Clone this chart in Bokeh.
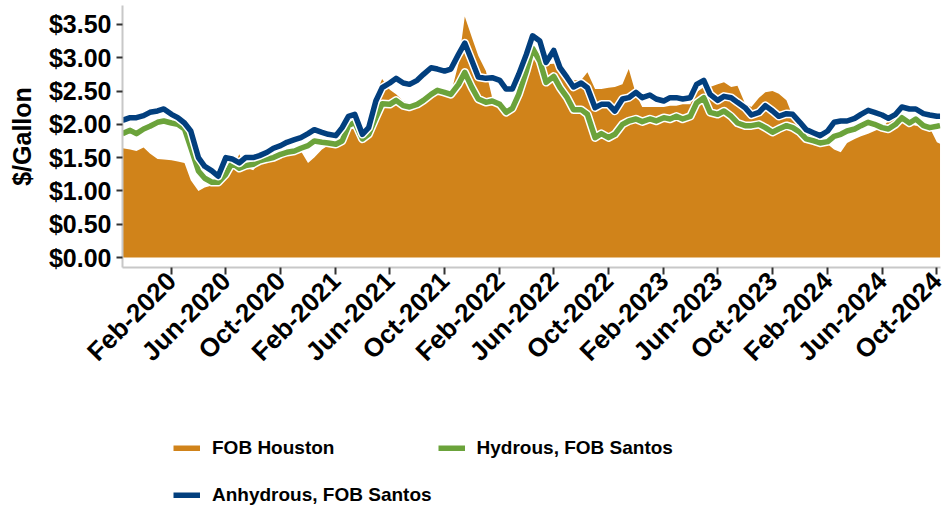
import pandas as pd
from bokeh.plotting import figure
from bokeh.layouts import column
from bokeh.models import (ColumnDataSource, FixedTicker, NumeralTickFormatter,
                          DatetimeTickFormatter, Legend, LegendItem, Range1d)
from bokeh.embed import file_html
from bokeh.resources import INLINE

# semi-monthly observation dates (1st and 15th), plus final week
dates = list(pd.date_range("2019-10-15", "2024-10-01", freq="SMS")) + [pd.Timestamp("2024-10-08")]

fob_houston = [
    1.64,
    1.62, 1.60, 1.65, 1.56,                                   # Nov-Dec 2019
    1.48, 1.47, 1.46, 1.44, 1.42, 1.16, 1.00, 1.05, 1.08, 1.10, 1.38, 1.32,  # Jan-Jun 2020
    1.55, 1.35, 1.31, 1.43, 1.45, 1.50, 1.53, 1.58, 1.63, 1.60, 1.42, 1.50,  # Jul-Dec 2020
    1.62, 1.68, 1.70, 1.85, 2.10, 2.05, 1.80, 2.15, 2.45, 2.68, 2.52, 2.45,  # Jan-Jun 2021
    2.35, 2.31, 2.32, 2.36, 2.40, 2.45, 2.48, 2.46, 2.91, 3.62, 3.30, 3.03,  # Jul-Dec 2021
    2.80, 2.40, 2.32, 2.18, 2.36, 2.60, 2.85, 3.03, 2.85, 2.90, 2.91, 2.95,  # Jan-Jun 2022
    2.78, 2.66, 2.66, 2.78, 2.53, 2.53, 2.55, 2.56, 2.60, 2.83, 2.45, 2.26,  # Jul-Dec 2022
    2.26, 2.26, 2.26, 2.28, 2.28, 2.30, 2.30, 2.48, 2.56, 2.56, 2.60, 2.63,  # Jan-Jun 2023
    2.56, 2.58, 2.31, 2.26, 2.40, 2.48, 2.50, 2.46, 2.36, 2.12, 2.05, 1.91,  # Jul-Dec 2023
    1.85, 1.78, 1.70, 1.62, 1.58, 1.72, 1.78, 1.82, 1.86, 1.90, 1.95, 2.05,  # Jan-Jun 2024
    2.15, 2.03, 2.00, 1.98, 1.98, 1.95, 1.73, 1.71,                          # Jul-Oct 2024
]

hydrous_santos = [
    1.86,
    1.91, 1.86, 1.93, 1.97,
    2.03, 2.05, 2.02, 2.00, 1.93, 1.65, 1.30, 1.19, 1.13, 1.13, 1.25, 1.42,
    1.34, 1.38, 1.40, 1.45, 1.48, 1.50, 1.55, 1.58, 1.60, 1.64, 1.68, 1.75,
    1.73, 1.72, 1.70, 1.75, 1.98, 2.03, 1.78, 1.85, 2.10, 2.31, 2.30, 2.36,
    2.28, 2.26, 2.30, 2.36, 2.45, 2.51, 2.48, 2.45, 2.60, 2.78, 2.55, 2.38,
    2.33, 2.35, 2.30, 2.18, 2.24, 2.45, 2.80, 3.14, 2.95, 2.63, 2.72, 2.55,
    2.40, 2.22, 2.22, 2.15, 1.80, 1.86, 1.80, 1.85, 2.00, 2.05, 2.08, 2.04,
    2.08, 2.05, 2.10, 2.08, 2.12, 2.08, 2.12, 2.32, 2.40, 2.18, 2.15, 2.20,
    2.12, 2.02, 1.98, 1.98, 2.00, 1.95, 1.88, 1.93, 1.98, 1.95, 1.88, 1.78,
    1.75, 1.72, 1.74, 1.82, 1.85, 1.90, 1.93, 1.98, 2.03, 2.00, 1.95, 1.93,
    2.00, 2.10, 2.02, 2.08, 1.98, 1.95, 1.97, 1.98,
]

anhydrous_santos = [
    2.06,
    2.10, 2.10, 2.13, 2.18,
    2.20, 2.23, 2.15, 2.10, 2.02, 1.90, 1.50, 1.37, 1.30, 1.22, 1.50, 1.48,
    1.42, 1.50, 1.50, 1.53, 1.58, 1.64, 1.68, 1.73, 1.77, 1.80, 1.86, 1.92,
    1.88, 1.85, 1.83, 1.95, 2.12, 2.15, 1.85, 1.95, 2.35, 2.55, 2.62, 2.69,
    2.62, 2.60, 2.66, 2.75, 2.85, 2.83, 2.80, 2.83, 3.05, 3.22, 2.95, 2.71,
    2.69, 2.70, 2.66, 2.53, 2.53, 2.75, 3.05, 3.33, 3.25, 2.93, 3.11, 2.85,
    2.70, 2.56, 2.62, 2.55, 2.25, 2.30, 2.30, 2.20, 2.38, 2.40, 2.48, 2.40,
    2.44, 2.38, 2.35, 2.40, 2.40, 2.38, 2.40, 2.60, 2.66, 2.45, 2.36, 2.42,
    2.40, 2.33, 2.25, 2.14, 2.18, 2.28, 2.20, 2.12, 2.16, 2.15, 2.03, 1.92,
    1.87, 1.83, 1.90, 2.03, 2.05, 2.05, 2.09, 2.15, 2.21, 2.18, 2.14, 2.09,
    2.15, 2.26, 2.23, 2.23, 2.16, 2.14, 2.12, 2.12,
]

tick_dates = ["2020-02-01", "2020-06-01", "2020-10-01", "2021-02-01", "2021-06-01",
              "2021-10-01", "2022-02-01", "2022-06-01", "2022-10-01", "2023-02-01",
              "2023-06-01", "2023-10-01", "2024-02-01", "2024-06-01", "2024-10-01"]
y_ticks = [0, 0.5, 1.0, 1.5, 2.0, 2.5, 3.0, 3.5]

series_names = ["FOB Houston", "Hydrous, FOB Santos", "Anhydrous, FOB Santos"]
ORANGE, GREEN, BLUE = "#D0831A", "#6BA33B", "#023F7E"

assert len(dates) == len(fob_houston) == len(hydrous_santos) == len(anhydrous_santos), \
    (len(dates), len(fob_houston), len(hydrous_santos), len(anhydrous_santos))

src = ColumnDataSource(dict(date=dates, houston=fob_houston,
                            hydrous=hydrous_santos, anhydrous=anhydrous_santos))

W, H = 948, 388
p = figure(width=W, height=H, x_axis_type="datetime",
           output_backend="svg", toolbar_location=None,
           x_range=Range1d(pd.Timestamp("2019-10-15"), pd.Timestamp("2024-10-09")),
           y_range=Range1d(-0.150, 3.784),
           min_border_left=122, min_border_right=W - 940, min_border_top=5,
           min_border_bottom=H - 267)
p.outline_line_color = None
p.xgrid.grid_line_color = None
p.ygrid.grid_line_color = None

p.varea(x="date", y1=0, y2="houston", source=src, fill_color=ORANGE, fill_alpha=1.0)
p.line(x="date", y="hydrous", source=src, line_color="white", line_width=8.5, line_join="round")
p.line(x="date", y="hydrous", source=src, line_color=GREEN, line_width=5.5, line_join="round")
p.line(x="date", y="anhydrous", source=src, line_color="white", line_width=8.5, line_join="round")
p.line(x="date", y="anhydrous", source=src, line_color=BLUE, line_width=5.5, line_join="round")

FONT = "Liberation Sans"
# x axis
xa = p.xaxis[0]
xa.ticker = FixedTicker(ticks=[pd.Timestamp(d).value // 10**6 for d in tick_dates])
fmt = "%b-%Y"
xa.formatter = DatetimeTickFormatter(years=fmt, months=fmt, days=fmt, hours=fmt,
                                     minutes=fmt, seconds=fmt, milliseconds=fmt,
                                     microseconds=fmt, hourmin=fmt, minsec=fmt)
xa.major_label_orientation = 0.785398
xa.major_label_text_font = FONT
xa.major_label_text_font_style = "bold"
xa.major_label_text_font_size = "26px"
xa.major_label_text_color = "black"
xa.axis_line_color = "#C8C8C8"
xa.axis_line_width = 2
xa.major_tick_line_color = "#333333"
xa.major_tick_line_width = 2
xa.major_tick_out = 7
xa.major_tick_in = 0
xa.minor_tick_line_color = None
xa.major_label_standoff = 2

ya = p.yaxis[0]
ya.ticker = FixedTicker(ticks=y_ticks)
ya.formatter = NumeralTickFormatter(format="$0.00")
ya.major_label_text_font = FONT
ya.major_label_text_font_style = "bold"
ya.major_label_text_font_size = "25px"
ya.major_label_text_color = "black"
ya.axis_line_color = "#C8C8C8"
ya.axis_line_width = 2
ya.major_tick_line_color = "#333333"
ya.major_tick_line_width = 2
ya.major_tick_out = 6
ya.major_tick_in = 0
ya.minor_tick_line_color = None
ya.major_label_standoff = 5
ya.axis_label = "$/Gallon"
ya.axis_label_text_font = FONT
ya.axis_label_text_font_style = "bold"
ya.axis_label_text_font_size = "25px"
ya.axis_label_text_color = "black"
ya.axis_label_standoff = 10

# legend strip below the chart; its key lines use the same data but lie outside its 0..1 view
LH = 512 - H
pl = figure(width=W, height=LH, output_backend="svg", toolbar_location=None,
            x_range=Range1d(0, 1), y_range=Range1d(0, 1),
            x_axis_location=None, y_axis_location=None,
            min_border_left=0, min_border_right=0, min_border_top=0, min_border_bottom=0)
pl.outline_line_color = None
pl.xgrid.grid_line_color = None
pl.ygrid.grid_line_color = None
k_hou = pl.line(x="date", y="houston", source=src, line_color=ORANGE, line_width=6)
k_hyd = pl.line(x="date", y="hydrous", source=src, line_color=GREEN, line_width=6)
k_anh = pl.line(x="date", y="anhydrous", source=src, line_color=BLUE, line_width=6)

# column-major fill: column 1 = Houston, Anhydrous; column 2 = Hydrous
legend = Legend(items=[LegendItem(label=series_names[0], renderers=[k_hou]),
                       LegendItem(label=series_names[2], renderers=[k_anh]),
                       LegendItem(label=series_names[1], renderers=[k_hyd])],
                ncols=2, location=(51, -3))
legend.label_text_font = FONT
legend.label_text_font_style = "bold"
legend.label_text_font_size = "19px"
legend.label_text_color = "black"
legend.glyph_width = 27
legend.glyph_height = 6
legend.label_standoff = 12
legend.label_height = 41
legend.spacing = 6
legend.padding = 0
legend.margin = 0
legend.border_line_color = None
legend.background_fill_alpha = 0
pl.add_layout(legend, "center")

open("out.html", "w").write(file_html(column(p, pl, spacing=0), INLINE))
